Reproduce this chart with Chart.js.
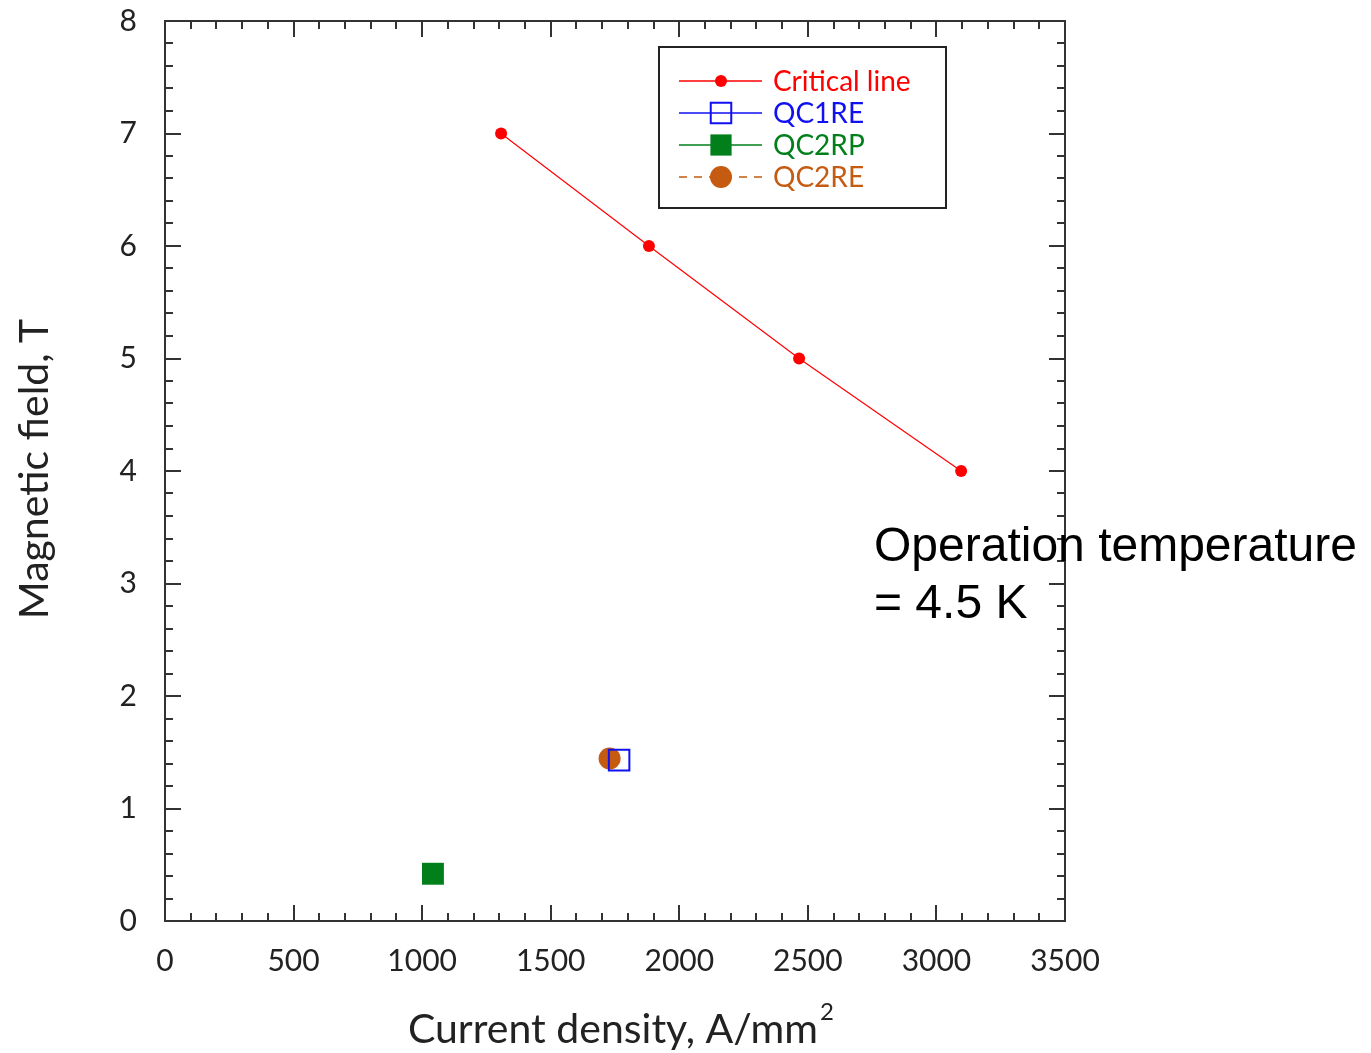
<!DOCTYPE html>
<html><head><meta charset="utf-8">
<script src="https://cdn.jsdelivr.net/npm/chart.js@4/dist/chart.umd.min.js"></script>
<style>html,body{margin:0;padding:0;background:#fff}#wrap{width:1371px;height:1053px}</style>
</head><body><div id="wrap"><canvas id="c" width="1371" height="1053"></canvas></div>
<script>
const criticalJ = [1307, 1882, 2466, 3096];
const criticalB = [7, 6, 5, 4];
const qc1reJ = [1766];
const qc1reB = [1.43];
const qc2rpJ = [1042];
const qc2rpB = [0.42];
const qc2reJ = [1729];
const qc2reB = [1.445];
const seriesLabels = ['Critical line', 'QC1RE', 'QC2RP', 'QC2RE'];
const xTickValues = [0, 500, 1000, 1500, 2000, 2500, 3000, 3500];
const yTickValues = [0, 1, 2, 3, 4, 5, 6, 7, 8];
const xTitle = 'Current density, A/mm';
const yTitle = 'Magnetic field, T';
const noteLines = ['Operation temperature', '= 4.5 K'];

const pts = (xs, ys) => xs.map((x, i) => ({x, y: ys[i]}));
const RED = '#ff0000', BLUE = '#1010f0', GREEN = '#007f1a', ORANGE = '#c55a11';
const FONT = 'Lato, "Open Sans", sans-serif';

const decor = {
  id: 'decor',
  afterDatasetsDraw(chart) {
    const ctx = chart.ctx, a = chart.chartArea;
    const xs = chart.scales.x, ys = chart.scales.y;
    ctx.save();
    ctx.strokeStyle = '#333';
    ctx.lineWidth = 2;
    ctx.strokeRect(a.left, a.top, a.right - a.left, a.bottom - a.top);
    ctx.beginPath();
    for (let v = 0; v <= 3500; v += 100) {
      const p = Math.round(xs.getPixelForValue(v));
      const L = (v % 500 === 0) ? 16 : 8;
      ctx.moveTo(p, a.bottom); ctx.lineTo(p, a.bottom - L);
      ctx.moveTo(p, a.top); ctx.lineTo(p, a.top + L);
    }
    for (let i = 0; i <= 40; i++) {
      const v = i * 0.2;
      const p = Math.round(ys.getPixelForValue(v));
      const L = (i % 5 === 0) ? 16 : 8;
      ctx.moveTo(a.left, p); ctx.lineTo(a.left + L, p);
      ctx.moveTo(a.right, p); ctx.lineTo(a.right - L, p);
    }
    ctx.stroke();

    // axis titles
    ctx.fillStyle = '#222';
    ctx.font = '41px ' + FONT;
    ctx.textAlign = 'center';
    ctx.textBaseline = 'middle';
    const tw = ctx.measureText(xTitle).width;
    const cx = 613;
    ctx.fillText(xTitle, cx, 1030);
    ctx.font = '24px ' + FONT;
    ctx.textAlign = 'left';
    ctx.fillText('2', cx + tw / 2 + 2, 1012);
    ctx.save();
    ctx.translate(35, 469);
    ctx.rotate(-Math.PI / 2);
    ctx.font = '41px ' + FONT;
    ctx.textAlign = 'center';
    ctx.fillText(yTitle, 0, 0);
    ctx.restore();

    // legend
    ctx.lineWidth = 2;
    ctx.strokeStyle = '#222';
    ctx.fillStyle = '#fff';
    ctx.fillRect(659, 47, 287, 161);
    ctx.strokeRect(659, 47, 287, 161);
    const rows = [81, 113, 145, 177];
    chart.data.datasets.forEach((ds, i) => {
      const y = rows[i];
      ctx.save();
      ctx.strokeStyle = ds.borderColor;
      ctx.lineWidth = 1.5;
      ctx.setLineDash(ds.legendDash || []);
      ctx.beginPath(); ctx.moveTo(679, y); ctx.lineTo(762, y); ctx.stroke();
      ctx.restore();
      ctx.save();
      ctx.fillStyle = ds.pointBackgroundColor;
      ctx.strokeStyle = ds.borderColor;
      Chart.helpers.drawPoint(ctx, {pointStyle: ds.pointStyle, radius: ds.legendRadius, borderWidth: ds.pointBorderWidth, rotation: 0}, 721, y);
      ctx.restore();
      ctx.fillStyle = ds.borderColor;
      ctx.font = '28px ' + FONT;
      ctx.textAlign = 'left';
      ctx.textBaseline = 'middle';
      ctx.fillText(ds.label, 773, y + 1);
    });

    // note
    ctx.fillStyle = '#000';
    ctx.font = '48px "Liberation Sans", Arial, sans-serif';
    ctx.textAlign = 'left';
    ctx.textBaseline = 'alphabetic';
    ctx.fillText(noteLines[0], 874, 561);
    ctx.fillText(noteLines[1], 874, 618);
    ctx.restore();
  }
};

new Chart(document.getElementById('c'), {
  type: 'scatter',
  data: {
    datasets: [
      {label: seriesLabels[0], data: pts(criticalJ, criticalB), showLine: true, borderColor: RED, backgroundColor: RED,
       pointBackgroundColor: RED, borderWidth: 1.2, pointRadius: 6, pointStyle: 'circle', pointBorderWidth: 0, legendRadius: 6},
      {label: seriesLabels[1], data: pts(qc1reJ, qc1reB), borderColor: BLUE, backgroundColor: 'rgba(0,0,0,0)',
       pointBackgroundColor: 'rgba(0,0,0,0)', pointRadius: 14.5, pointStyle: 'rect', pointBorderWidth: 2, legendRadius: 14.5},
      {label: seriesLabels[2], data: pts(qc2rpJ, qc2rpB), borderColor: GREEN, backgroundColor: GREEN,
       pointBackgroundColor: GREEN, pointRadius: 15.5, pointStyle: 'rect', pointBorderWidth: 0, legendRadius: 15},
      {label: seriesLabels[3], data: pts(qc2reJ, qc2reB), borderColor: ORANGE, backgroundColor: ORANGE,
       pointBackgroundColor: ORANGE, pointRadius: 11, pointStyle: 'circle', pointBorderWidth: 0, legendRadius: 11, legendDash: [8, 7]}
    ]
  },
  options: {
    responsive: false,
    animation: false,
    layout: {padding: {top: 21, right: 306, left: 0, bottom: 0}},
    plugins: {legend: {display: false}, tooltip: {enabled: false}},
    scales: {
      x: {
        type: 'linear', min: 0, max: 3500,
        afterBuildTicks: s => { s.ticks = xTickValues.map(v => ({value: v})); },
        afterFit: s => { s.height = 132; s.paddingLeft = 0; s.paddingRight = 0; },
        grid: {display: false}, border: {display: false},
        ticks: {padding: 14, color: '#222', font: {family: FONT, size: 30}, callback: v => String(v)}
      },
      y: {
        type: 'linear', min: 0, max: 8,
        afterBuildTicks: s => { s.ticks = yTickValues.map(v => ({value: v})); },
        afterFit: s => { s.width = 165; s.paddingTop = 0; s.paddingBottom = 0; },
        grid: {display: false}, border: {display: false},
        ticks: {padding: 20, color: '#222', font: {family: FONT, size: 30}, callback: v => String(v)}
      }
    }
  },
  plugins: [decor]
});
</script></body></html>
